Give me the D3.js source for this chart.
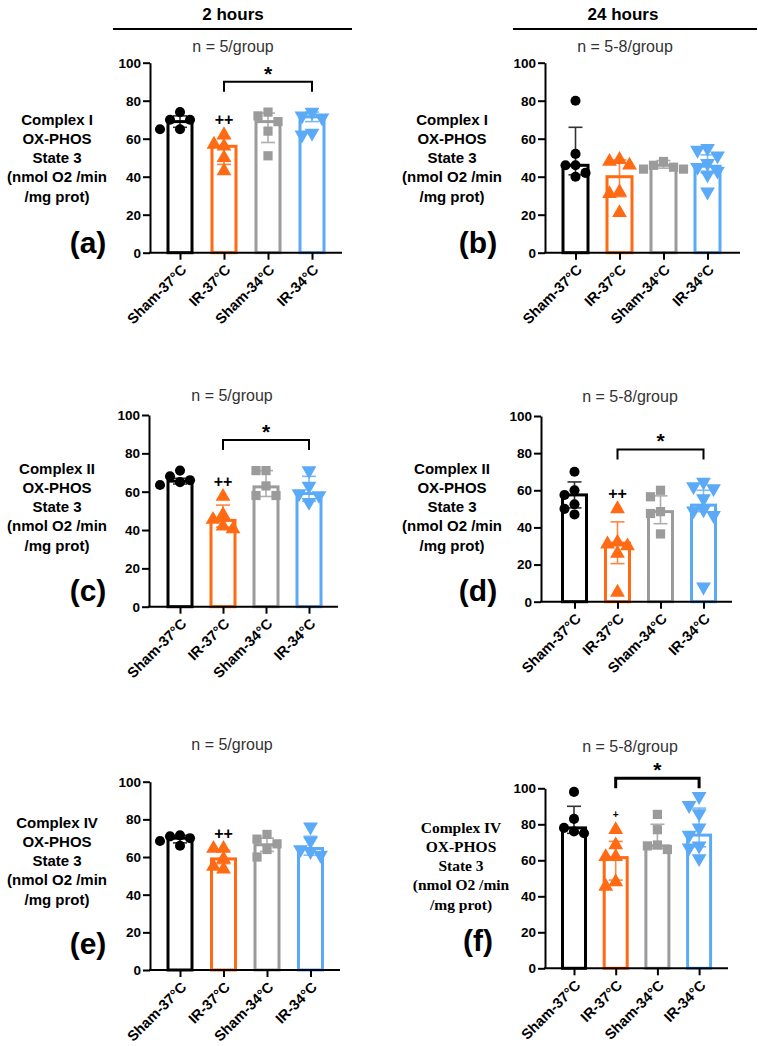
<!DOCTYPE html>
<html>
<head>
<meta charset="utf-8">
<script src="https://cdn.jsdelivr.net/npm/d3@7"></script>
<style>
  body { margin: 0; background: #fff; }
  text { font-family: "Liberation Sans", Arial, sans-serif; }
</style>
</head>
<body>
<svg id="chart" width="758" height="1046"></svg>
<script>
// Groups and tick values shared by all panels
const groups = ['Sham-37°C', 'IR-37°C', 'Sham-34°C', 'IR-34°C'];
const yTicks = [0, 20, 40, 60, 80, 100];

// (a) Complex I, 2 hours
const aMean = [69, 56, 69, 71.5];
const aLo = [66, 46.5, 58, 69];
const aHi = [72, 60, 73.5, 74];
const aPoints = [[74, 70, 70, 65, 65], [62, 57, 56, 50, 43], [74, 72, 69, 64, 51], [74, 72, 71, 63, 62]];
const aMarks = ['', '++', '', ''];
const aBracket = [1, 3, 90];

// (b) Complex I, 24 hours
const bMean = [46, 40, 46, 45.5];
const bLo = [41, 29.5, 44.5, 42];
const bHi = [66, 48.8, 48.5, 51.5];
const bPoints = [[80, 52, 46, 46, 42, 40], [49, 48, 46, 32, 31, 21], [48, 46, 45, 44, 44], [55, 54, 51, 47, 45, 43, 41, 32]];
const bMarks = ['', '', '', ''];
const bBracket = null;

// (c) Complex II, 2 hours
const cMean = [65.5, 45, 62.5, 59];
const cLo = [64, 41.5, 57.5, 55];
const cHi = [67, 53, 71, 68];
const cPoints = [[71, 68, 66, 65, 63.5], [57.5, 48, 45.5, 42, 40.5], [71, 71, 63, 58, 58], [71, 63, 59, 58, 54.5]];
const cMarks = ['', '++', '', ''];
const cBracket = [1, 3, 87];

// (d) Complex II, 24 hours
const dMean = [57.5, 31.5, 48.5, 52];
const dLo = [50.5, 20.5, 42, 48.5];
const dHi = [64.5, 43, 57, 60];
const dPoints = [[70, 60, 57.5, 52.5, 50, 47], [50, 32, 31, 30, 26, 5], [60, 56.5, 48.5, 47.5, 36.5], [64.5, 62, 61, 55.5, 49.5, 49, 46.5, 8]];
const dMarks = ['', '++', '', ''];
const dBracket = [1, 3, 82];

// (e) Complex IV, 2 hours
const eMean = [70, 59, 66.5, 64.5];
const eLo = [67.5, 56.5, 63, 61];
const eHi = [71.5, 63.5, 70, 71];
const ePoints = [[71.5, 71, 70, 68.5, 66], [64.5, 64.5, 59, 55, 53.5], [72, 69.5, 67, 64, 60], [76, 68.5, 64, 63, 61]];
const eMarks = ['', '++', '', ''];
const eBracket = null;

// (f) Complex IV, 24 hours
const fMean = [78, 61.5, 68, 74];
const fLo = [75, 49, 66.5, 67.5];
const fHi = [90, 70.5, 80, 89];
const fPoints = [[98, 83, 78, 76, 75], [77, 68.5, 62, 62, 48, 45.5], [85.5, 77, 68.5, 68, 66], [95.5, 90.5, 86, 78, 74, 68, 67, 61]];
const fMarks = ['', '+', '', ''];
const fBracket = [1, 3, 105.6];

const colors = ['#000000', '#ff6a13', '#9b9b9b', '#5aaaf7'];
const symbols = [d3.symbolCircle, d3.symbolTriangle, d3.symbolSquare, d3.symbolTriangle];
const symbolSize = [80, 95, 85, 95];
const symbolRotate = [0, 0, 0, 180];

const svg = d3.select('#chart');

// Column headers
[['2 hours', 233, 113, 352], ['24 hours', 623, 513, 757]].forEach(([t, cx, x1, x2]) => {
  svg.append('text').attr('x', cx).attr('y', 20).attr('text-anchor', 'middle')
    .attr('font-size', 17).attr('font-weight', 'bold').text(t);
  svg.append('line').attr('x1', x1).attr('x2', x2).attr('y1', 29).attr('y2', 29)
    .attr('stroke', '#000').attr('stroke-width', 2);
});

// Layout of each panel (pixels)
const panels = [
  { mean: aMean, lo: aLo, hi: aHi, points: aPoints, marks: aMarks, bracket: aBracket, letter: '(a)', title: 'Complex I', n: 'n = 5/group',
    axisX: 150, y100: 62.7, y0: 252.7, first: 180, step: 44, axisEnd: 342, labelX: 57, labelY: 119, letterX: 88, letterY: 242, nX: 233, nY: 46, bw: 27, bracketW: 2 },
  { mean: bMean, lo: bLo, hi: bHi, points: bPoints, marks: bMarks, bracket: bBracket, letter: '(b)', title: 'Complex I', n: 'n = 5-8/group',
    axisX: 545, y100: 62.7, y0: 252.7, first: 575.5, step: 44, axisEnd: 740, labelX: 452, labelY: 119, letterX: 478, letterY: 242, nX: 625, nY: 46, bw: 28, bracketW: 2 },
  { mean: cMean, lo: cLo, hi: cHi, points: cPoints, marks: cMarks, bracket: cBracket, letter: '(c)', title: 'Complex II', n: 'n = 5/group',
    axisX: 149, y100: 415, y0: 606.7, first: 180, step: 43, axisEnd: 338, labelX: 57, labelY: 468, letterX: 88, letterY: 590, nX: 232, nY: 395, bw: 27, bracketW: 2 },
  { mean: dMean, lo: dLo, hi: dHi, points: dPoints, marks: dMarks, bracket: dBracket, letter: '(d)', title: 'Complex II', n: 'n = 5-8/group',
    axisX: 541, y100: 416, y0: 601.7, first: 574.5, step: 43, axisEnd: 732, labelX: 452, labelY: 468, letterX: 478, letterY: 590, nX: 630, nY: 396, bw: 27, bracketW: 2 },
  { mean: eMean, lo: eLo, hi: eHi, points: ePoints, marks: eMarks, bracket: eBracket, letter: '(e)', title: 'Complex IV', n: 'n = 5/group',
    axisX: 150, y100: 781.7, y0: 970, first: 180, step: 43.5, axisEnd: 340, labelX: 57, labelY: 822, letterX: 88, letterY: 943, nX: 232, nY: 744, bw: 27, bracketW: 2 },
  { mean: fMean, lo: fLo, hi: fHi, points: fPoints, marks: fMarks, bracket: fBracket, letter: '(f)', title: 'Complex IV', n: 'n = 5-8/group',
    axisX: 545, y100: 788.3, y0: 968.3, first: 574, step: 41.7, axisEnd: 728, labelX: 461, labelY: 827, letterX: 478, letterY: 940, nX: 630, nY: 746, bw: 26, bracketW: 3, serif: true }
];

// Spread points sideways so that markers do not overlap
function spread(values, y, r) {
  const order = values.map((v, i) => i).sort((a, b) => values[b] - values[a]);
  const cands = [0, -1, 1, -2, 2, -0.5, 0.5, -1.5, 1.5, -2.5, 2.5];
  const placed = [];
  order.forEach(i => {
    const py = y(values[i]);
    let off = 0;
    for (const c of cands) {
      const ox = c * r;
      if (placed.every(p => Math.hypot(p.x - ox, p.y - py) >= r)) { off = ox; break; }
    }
    placed.push({ x: off, y: py, v: values[i] });
  });
  return placed;
}

panels.forEach(p => {
  const g = svg.append('g');
  const y = d3.scaleLinear().domain([0, 100]).range([p.y0, p.y100]);
  const a = p.first - p.step / 2;
  const x = d3.scalePoint().domain(groups).range([a, a + 4 * p.step]).padding(0.5);
  const labelFont = p.serif ? '"Liberation Serif", "Times New Roman", serif' : '"Liberation Sans", Arial, sans-serif';

  // n = .../group
  g.append('text').attr('x', p.nX).attr('y', p.nY).attr('dominant-baseline', 'central')
    .attr('text-anchor', 'middle').attr('font-size', 16).attr('fill', '#333').text(p.n);

  // y label block
  const lines = [p.title, 'OX-PHOS', 'State 3', '(nmol O2 /min', '/mg prot)'];
  g.append('g').selectAll('text').data(lines).join('text')
    .attr('x', p.labelX).attr('y', (d, i) => p.labelY + i * 19.3)
    .attr('dominant-baseline', 'central').attr('text-anchor', 'middle')
    .attr('font-size', p.serif ? 15.5 : 15).attr('font-weight', 'bold').style('font-family', labelFont)
    .text(d => d);

  g.append('text').attr('x', p.letterX).attr('y', p.letterY).attr('dominant-baseline', 'central')
    .attr('text-anchor', 'middle').attr('font-size', 30).attr('font-weight', 'bold').text(p.letter);

  // bars
  g.append('g').selectAll('rect').data(groups).join('rect')
    .attr('x', d => x(d) - p.bw / 2 + 1.5)
    .attr('width', p.bw - 3)
    .attr('y', (d, i) => y(p.mean[i]))
    .attr('height', (d, i) => p.y0 - y(p.mean[i]))
    .attr('fill', '#fff')
    .attr('stroke', (d, i) => colors[i])
    .attr('stroke-width', 3);

  // error bars
  const eb = g.append('g').selectAll('g').data(groups).join('g')
    .attr('stroke', (d, i) => colors[i]).attr('stroke-width', 1.6).attr('opacity', 0.8);
  eb.append('line').attr('x1', d => x(d)).attr('x2', d => x(d))
    .attr('y1', (d, i) => y(p.lo[i])).attr('y2', (d, i) => y(p.hi[i]));
  eb.append('line').attr('x1', d => x(d) - 7).attr('x2', d => x(d) + 7)
    .attr('y1', (d, i) => y(p.hi[i])).attr('y2', (d, i) => y(p.hi[i]));
  eb.append('line').attr('x1', d => x(d) - 7).attr('x2', d => x(d) + 7)
    .attr('y1', (d, i) => y(p.lo[i])).attr('y2', (d, i) => y(p.lo[i]));

  // individual points
  groups.forEach((grp, i) => {
    const pts = spread(p.points[i], y, 10);
    g.append('g').selectAll('path').data(pts).join('path')
      .attr('d', d3.symbol().type(symbols[i]).size(symbolSize[i]))
      .attr('transform', d => `translate(${x(grp) + d.x},${d.y}) rotate(${symbolRotate[i]})`)
      .attr('fill', colors[i]);
  });

  // ++ marks over bars
  g.append('g').selectAll('text').data(groups).join('text')
    .attr('x', d => x(d))
    .attr('y', (d, i) => y(d3.max(p.points[i])) - 15)
    .attr('dominant-baseline', 'central').attr('text-anchor', 'middle')
    .attr('font-weight', 'bold')
    .attr('font-size', (d, i) => p.marks[i].length > 1 ? 16 : 10)
    .text((d, i) => p.marks[i]);

  // significance bracket
  if (p.bracket) {
    const [i1, i2, lvl] = p.bracket;
    const x1 = x(groups[i1]), x2 = x(groups[i2]), by = y(lvl);
    g.append('path')
      .attr('d', `M${x1},${by + 10}V${by}H${x2}V${by + 10}`)
      .attr('fill', 'none').attr('stroke', '#000').attr('stroke-width', p.bracketW);
    g.append('text').attr('x', (x1 + x2) / 2).attr('y', by - 1)
      .attr('text-anchor', 'middle').attr('font-size', 21).attr('font-weight', 'bold').text('*');
  }

  // y axis
  const ya = g.append('g').attr('transform', `translate(${p.axisX},0)`)
    .call(d3.axisLeft(y).tickValues(yTicks).tickSize(7).tickSizeOuter(0).tickPadding(2));
  ya.selectAll('path, line').attr('stroke', '#000').attr('stroke-width', 2);
  ya.selectAll('text').attr('font-size', 13.5).attr('font-weight', 'bold').attr('fill', '#000')
    .style('font-family', '"Liberation Sans", Arial, sans-serif');

  // x axis
  const xa = g.append('g').attr('transform', `translate(0,${p.y0})`)
    .call(d3.axisBottom(x).tickSize(7).tickSizeOuter(0));
  xa.select('.domain').remove();
  xa.append('line').attr('x1', p.axisX - 1).attr('x2', p.axisEnd).attr('y1', 0).attr('y2', 0)
    .attr('stroke', '#000').attr('stroke-width', 2);
  xa.selectAll('.tick line').attr('stroke', '#000').attr('stroke-width', 2);
  xa.selectAll('.tick text')
    .attr('font-size', 14.5).attr('font-weight', 'bold').attr('fill', '#000')
    .style('font-family', '"Liberation Sans", Arial, sans-serif')
    .attr('text-anchor', 'end')
    .attr('dy', null)
    .attr('y', 0)
    .attr('transform', 'translate(7,18) rotate(-45)');
});
</script>
</body>
</html>
